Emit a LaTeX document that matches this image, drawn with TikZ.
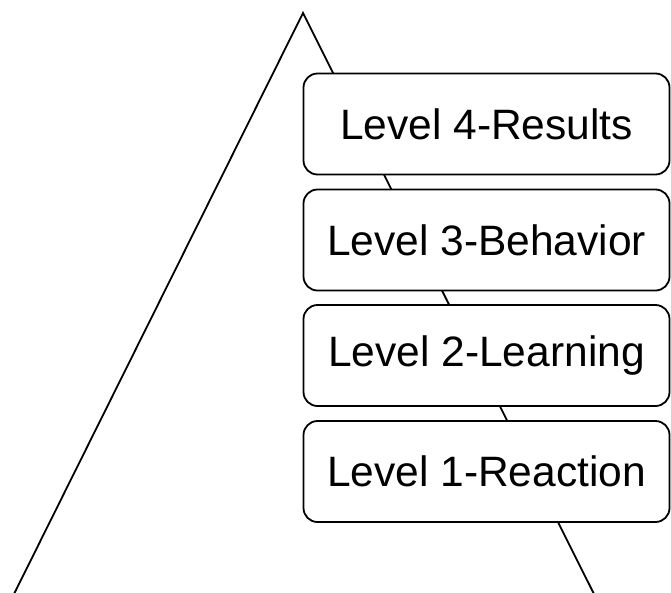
\documentclass[tikz,border=0pt]{standalone}
\usepackage{fontspec}
\setmainfont{Liberation Sans}
\begin{document}
\begin{tikzpicture}[x=1pt, y=-1pt, line width=1.8pt,
  levelbox/.style={draw, fill=white, rounded corners=14pt, minimum width=366pt, minimum height=101pt, inner sep=0pt, font=\fontsize{42.5}{50}\selectfont}]
\useasboundingbox (0,0) rectangle (671,592);
% pyramid, no base
\coordinate (apex) at (303,13);
\coordinate (baseL) at (14,594);
\coordinate (baseR) at (594,594);
\draw (baseL) -- (apex) -- (baseR);
% levels
\node[levelbox] (lvfour) at (486.5,124) {Level 4-Results};
\node[levelbox] (lvthree) at (486.5,240) {Level 3-Behavior};
\node[levelbox] (lvtwo) at (486.5,355.5) {Level 2-Learning};
\node[levelbox] (lvone) at (486.5,471.5) {Level 1-Reaction};
\end{tikzpicture}
\end{document}
